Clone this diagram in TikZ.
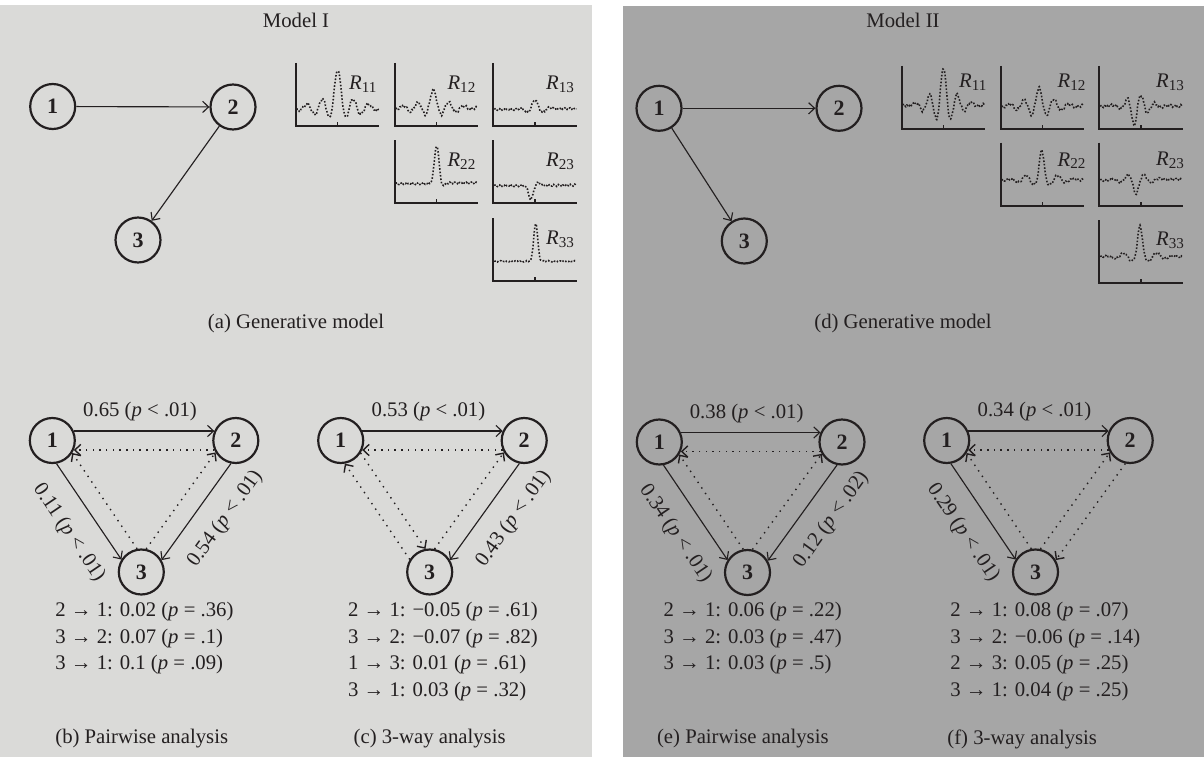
\documentclass[tikz,border=0pt]{standalone}
\usepackage{fontspec}
\setmainfont{Liberation Serif}
\usetikzlibrary{arrows.meta,calc}
\definecolor{panelA}{RGB}{218,218,216}
\definecolor{panelB}{RGB}{166,166,166}
\definecolor{ink}{RGB}{35,31,32}
\newcommand\pp{\textit{p}}
\tikzset{
  lbl/.style={font=\fontsize{11.8}{15}\selectfont, text=ink, inner sep=0pt},
  vtx/.style={circle, draw=ink, line width=1.25pt, minimum size=0.9cm, inner sep=0pt,
              font=\fontsize{12.5}{12.5}\selectfont\bfseries, text=ink},
  tipa/.style={-{Straight Barb[length=3.4pt,width=6.4pt]}},
  gedge/.style={tipa, draw=ink, line width=0.65pt},
  sedge/.style={gedge, shorten <=0.43cm, shorten >=0.43cm},
  dedge/.style={sedge, line width=0.8pt, dash pattern=on 0.8pt off 3pt},
  plotaxis/.style={draw=ink, line width=1pt},
  curve/.style={draw=ink, line width=0.9pt, dash pattern=on 0.9pt off 1.05pt},
}
% #1 style, #2 from, #3 to, #4 angle at start, #5 angle at end
\newcommand\pedge[5]{\draw[#1] ($(#2.center)!0.19cm!#4:(#3.center)$) -- ($(#3.center)!0.19cm!#5:(#2.center)$);}
% #1 x0, #2 axis y, #3 subscript, #4 expression, #5 label position
\newcommand\rplot[5]{%
  \begin{scope}[shift={(#1,#2)}]
    \draw[plotaxis] (0,-63) -- (0,0) -- (83.7,0);
    \draw[plotaxis] (41.85,0) -- (41.85,-4);
    \draw[curve] plot[domain=1:83, samples=160, smooth] (\x,{-(#4)});
    \node[lbl, anchor=east] at (#5) {\textit{R}\raisebox{-0.3ex}{\fontsize{8.6}{8.6}\selectfont #3}};
  \end{scope}}
\begin{document}
\begin{tikzpicture}[x=0.02cm, y=-0.02cm,
  declare function={
    g(\zz,\zs)=exp(max(-12,-(\zz/\zs)*(\zz/\zs)));
    osc(\zz,\zp,\zs)=cos(\zz/\zp*360)*g(\zz,\zs);
    nz(\zz)=0.9*sin(67*\zz)+0.7*sin(151*\zz+40);
  }]
\useasboundingbox (0,0) rectangle (1204,757);
\fill[panelA] (0,5) rectangle (592,757);
\fill[panelB] (623,6) rectangle (1204,757);

% ---------------- Model I ----------------
\node[lbl] (tI) at (296,20) {Model I};
\node[vtx] (a1) at (52.7,106.5) {1};
\node[vtx] (a2) at (233,107) {2};
\node[vtx] (a3) at (138,240) {3};
\draw[gedge] (a1) -- (a2);
\draw[gedge] (a2) -- (a3);

\rplot{295.7}{126}{11}{18+26*g(\x-42,5)+12*osc(\x-42,15.5,30)+nz(\x)}{81,-42}
\rplot{394.7}{126}{12}{18+10*g(\x-38.6,5)+8*osc(\x-38.6,15.5,25)+nz(\x)}{81,-42}
\rplot{493.3}{126}{13}{17+4*g(\x-41.7,4)+5*osc(\x-41.7,16,12)+0.8*nz(\x)}{81,-42}
\rplot{394.7}{203.3}{22}{20+38*g(\x-42,3.2)-3*g(\x-48,3)+0.8*nz(\x)}{81,-42}
\rplot{493.3}{203.3}{23}{18-14*g(\x-37.5,3.2)+3*g(\x-45,3)+0.8*nz(\x)}{81,-42}
\rplot{493.3}{281.3}{33}{20+38*g(\x-42.4,2.8)+0.5*nz(\x)}{81,-42}

\node[lbl] (capA) at (296,324) {(a) Generative model};

% (b) pairwise
\node[vtx] (b1) at (52.3,440.5) {1};
\node[vtx] (b2) at (235.8,440.5) {2};
\node[vtx] (b3) at (141.3,572) {3};
\pedge{sedge}{b1}{b2}{90}{-90}
\pedge{dedge}{b2}{b1}{90}{-90}
\pedge{sedge}{b1}{b3}{-90}{90}
\pedge{dedge}{b3}{b1}{-90}{90}
\pedge{sedge}{b2}{b3}{90}{-90}
\pedge{dedge}{b3}{b2}{90}{-90}
\node[lbl] (lb12) at ($(b1.center)!0.5!(b2.center)+(-4,-28.5)$) {0.65 (\pp{} < .01)};
\node[lbl, rotate=-55.9] (lb13) at ($(b1.center)!0.54!(b3.center)!0.76cm!-90:(b3.center)$) {0.11 (\pp{} < .01)};
\node[lbl, rotate=54.3] (lb23) at ($(b2.center)!0.43!(b3.center)!0.74cm!90:(b3.center)$) {0.54 (\pp{} < .01)};
\node[lbl, anchor=west] (bt1) at (55,611.7) {2 → 1: 0.02 (\pp{} = .36)};
\node[lbl, anchor=west] (bt2) at (55,638.5) {3 → 2: 0.07 (\pp{} = .1)};
\node[lbl, anchor=west] (bt3) at (55,665) {3 → 1: 0.1 (\pp{} = .09)};
\node[lbl, anchor=west] (capB) at (55,739) {(b) Pairwise analysis};

% (c) 3-way
\node[vtx] (c1) at (340.7,440.5) {1};
\node[vtx] (c2) at (524.2,440.5) {2};
\node[vtx] (c3) at (429.7,572) {3};
\pedge{sedge}{c1}{c2}{90}{-90}
\pedge{dedge}{c2}{c1}{90}{-90}
\pedge{dedge}{c1}{c3}{90}{-90}
\pedge{dedge}{c3}{c1}{90}{-90}
\pedge{sedge}{c2}{c3}{90}{-90}
\pedge{dedge}{c3}{c2}{90}{-90}
\node[lbl] (lc12) at ($(c1.center)!0.5!(c2.center)+(-4,-28.5)$) {0.53 (\pp{} < .01)};
\node[lbl, rotate=54.3] (lc23) at ($(c2.center)!0.43!(c3.center)!0.74cm!90:(c3.center)$) {0.43 (\pp{} < .01)};
\node[lbl, anchor=west] (ct1) at (347.7,611.7) {2 → 1: −0.05 (\pp{} = .61)};
\node[lbl, anchor=west] (ct2) at (347.7,638.5) {3 → 2: −0.07 (\pp{} = .82)};
\node[lbl, anchor=west] (ct3) at (347.7,665) {1 → 3: 0.01 (\pp{} = .61)};
\node[lbl, anchor=west] (ct4) at (347.7,691.7) {3 → 1: 0.03 (\pp{} = .32)};
\node[lbl, anchor=west] (capC) at (353.3,739) {(c) 3-way analysis};

% ---------------- Model II ----------------
\node[lbl] (tII) at (903,20) {Model II};
\node[vtx] (d1) at (659,108.3) {1};
\node[vtx] (d2) at (839,108.3) {2};
\node[vtx] (d3) at (744.3,241) {3};
\draw[gedge] (d1) -- (d2);
\draw[gedge] (d1) -- (d3);

\rplot{901.7}{129}{11}{24+20*g(\x-41.7,4)+17*osc(\x-41.7,14,20)+nz(\x)}{85,-47}
\rplot{1000.7}{129}{12}{23+8*g(\x-38.3,4)+10*osc(\x-38.3,15,22)+nz(\x)}{85,-47}
\rplot{1099.3}{129}{13}{23+12*cos((\x-41.7)/14*360)*g(\x-38,14)-8*g(\x-34.7,3)+nz(\x)}{85,-47}
\rplot{1000.7}{205.7}{22}{26+24*g(\x-41,3)+6*osc(\x-41,16,24)+0.8*nz(\x)}{85,-45}
\rplot{1099.3}{205.7}{23}{26-8*g(\x-36.7,3.5)-6*osc(\x-36.7,16,18)+0.8*nz(\x)}{85,-45}
\rplot{1099.3}{283.3}{33}{27+26*g(\x-40.7,3)+5*osc(\x-40.7,17,24)+0.8*nz(\x)}{85,-43}

\node[lbl] (capD) at (903,324) {(d) Generative model};

% (e) pairwise
\node[vtx] (e1) at (659.3,442) {1};
\node[vtx] (e2) at (842,442) {2};
\node[vtx] (e3) at (747.5,572.5) {3};
\pedge{sedge}{e1}{e2}{90}{-90}
\pedge{dedge}{e2}{e1}{90}{-90}
\pedge{sedge}{e1}{e3}{-90}{90}
\pedge{dedge}{e3}{e1}{-90}{90}
\pedge{sedge}{e2}{e3}{90}{-90}
\pedge{dedge}{e3}{e2}{90}{-90}
\node[lbl] (le12) at ($(e1.center)!0.5!(e2.center)+(-4,-28.5)$) {0.38 (\pp{} < .01)};
\node[lbl, rotate=-55.9] (le13) at ($(e1.center)!0.54!(e3.center)!0.76cm!-90:(e3.center)$) {0.34 (\pp{} < .01)};
\node[lbl, rotate=54.3] (le23) at ($(e2.center)!0.43!(e3.center)!0.74cm!90:(e3.center)$) {0.12 (\pp{} < .02)};
\node[lbl, anchor=west] (et1) at (663.3,611.7) {2 → 1: 0.06 (\pp{} = .22)};
\node[lbl, anchor=west] (et2) at (663.3,638.5) {3 → 2: 0.03 (\pp{} = .47)};
\node[lbl, anchor=west] (et3) at (663.3,665) {3 → 1: 0.03 (\pp{} = .5)};
\node[lbl, anchor=west] (capE) at (656.7,739) {(e) Pairwise analysis};

% (f) 3-way
\node[vtx] (f1) at (946.7,440.5) {1};
\node[vtx] (f2) at (1130.2,440.5) {2};
\node[vtx] (f3) at (1035.5,572) {3};
\pedge{sedge}{f1}{f2}{90}{-90}
\pedge{dedge}{f2}{f1}{90}{-90}
\pedge{sedge}{f1}{f3}{-90}{90}
\pedge{dedge}{f3}{f1}{-90}{90}
\pedge{dedge}{f2}{f3}{90}{-90}
\pedge{dedge}{f3}{f2}{90}{-90}
\node[lbl] (lf12) at ($(f1.center)!0.5!(f2.center)+(-4,-28.5)$) {0.34 (\pp{} < .01)};
\node[lbl, rotate=-55.9] (lf13) at ($(f1.center)!0.54!(f3.center)!0.76cm!-90:(f3.center)$) {0.29 (\pp{} < .01)};
\node[lbl, anchor=west] (ft1) at (950,611.7) {2 → 1: 0.08 (\pp{} = .07)};
\node[lbl, anchor=west] (ft2) at (950,638.5) {3 → 2: −0.06 (\pp{} = .14)};
\node[lbl, anchor=west] (ft3) at (950,665) {2 → 3: 0.05 (\pp{} = .25)};
\node[lbl, anchor=west] (ft4) at (950,691.7) {3 → 1: 0.04 (\pp{} = .25)};
\node[lbl, anchor=west] (capF) at (947,739) {(f) 3-way analysis};
\end{tikzpicture}
\end{document}
